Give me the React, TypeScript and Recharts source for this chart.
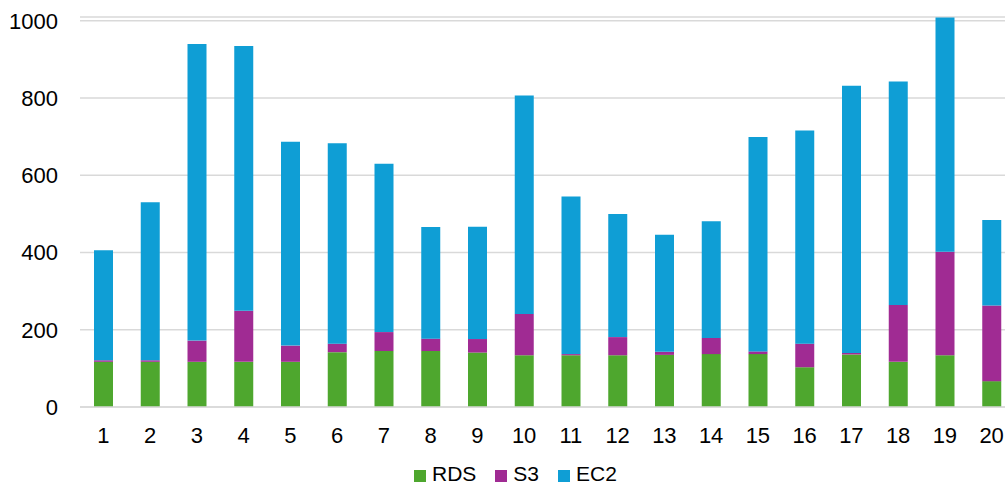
import { Bar, BarChart, CartesianGrid, Legend, XAxis, YAxis } from "recharts";

const DAYS = ["1", "2", "3", "4", "5", "6", "7", "8", "9", "10", "11", "12", "13", "14", "15", "16", "17", "18", "19", "20"];
const RDS = [117, 117, 117, 117, 117, 142, 145, 145, 141, 134, 134, 134, 135, 137, 137, 103, 136, 117, 134, 67];
const S3 = [4, 4, 55, 132, 42, 22, 49, 32, 35, 107, 3, 47, 8, 42, 7, 61, 4, 147, 268, 196];
const EC2 = [285, 409, 768, 686, 528, 519, 436, 289, 291, 566, 408, 319, 303, 302, 555, 552, 692, 579, 607, 221];
const Y_TICKS = [0, 200, 400, 600, 800, 1000];

const SERIES = [
  { key: "RDS", color: "#4ea72e" },
  { key: "S3", color: "#a02b93" },
  { key: "EC2", color: "#0f9ed5" },
];

const FONT = "'Liberation Sans', Arial, sans-serif";
const tickStyle = { fill: "#000", fontFamily: FONT, fontSize: 22 };

const data = DAYS.map((day, i) => ({ day, RDS: RDS[i], S3: S3[i], EC2: EC2[i] }));

function LegendContent() {
  return (
    <div style={{ display: "flex", alignItems: "center", height: 18, lineHeight: "18px", fontFamily: FONT, fontSize: 21, color: "#000" }}>
      {SERIES.map((s) => (
        <div key={s.key} style={{ display: "flex", alignItems: "center", marginRight: 19 }}>
          <span style={{ display: "inline-block", width: 12, height: 12, background: s.color, marginRight: 6, marginTop: 4 }} />
          <span>{s.key}</span>
        </div>
      ))}
    </div>
  );
}

export default function App() {
  return (
    <div style={{ position: "fixed", top: 0, left: 0, width: 1005, height: 486, overflow: "hidden", background: "#fff" }}>
      <BarChart width={1015} height={486} data={data} margin={{ top: 17, right: 0, left: 0, bottom: 31 }}>
        <CartesianGrid stroke="#d9d9d9" strokeWidth={1.5} vertical={false} />
        <XAxis dataKey="day" tick={tickStyle} tickLine={false} axisLine={{ stroke: "#d9d9d9", strokeWidth: 1.5 }} tickMargin={14} height={30} interval={0} />
        <YAxis domain={[0, 1010]} ticks={Y_TICKS} tick={tickStyle} tickLine={false} axisLine={false} tickMargin={16} width={80} />
        <Legend
          content={<LegendContent />}
          wrapperStyle={{ top: 465, bottom: "auto", left: 414, width: "auto", height: 18 }}
        />
        {SERIES.map((s) => (
          <Bar key={s.key} dataKey={s.key} stackId="a" fill={s.color} barSize={19} isAnimationActive={false} />
        ))}
      </BarChart>
    </div>
  );
}
